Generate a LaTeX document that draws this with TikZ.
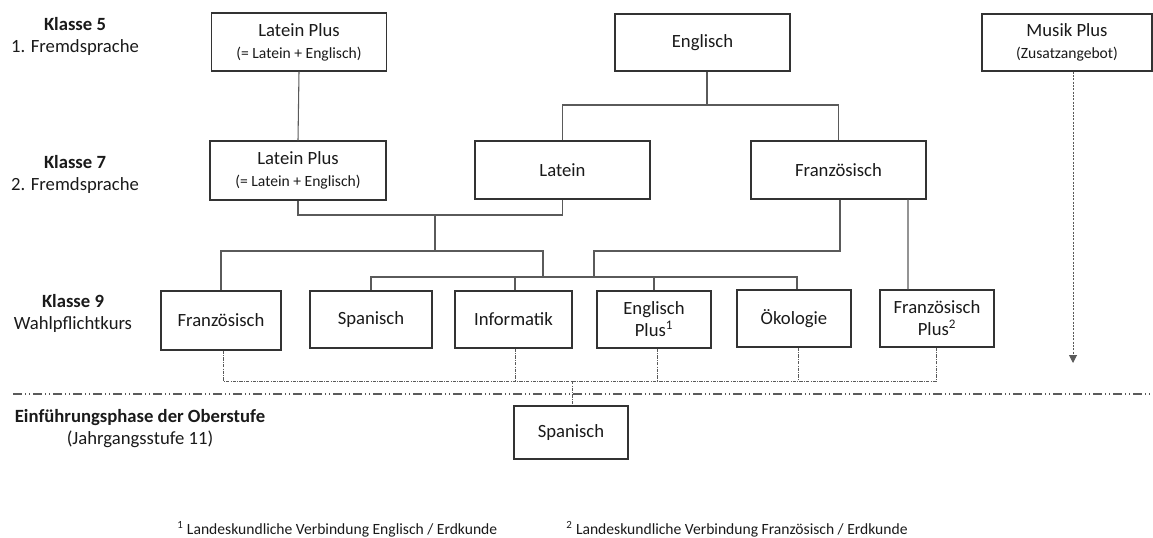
\documentclass[tikz,border=0pt]{standalone}
\usepackage{fontspec}
\setmainfont{Carlito}
\usetikzlibrary{arrows.meta,calc}
\definecolor{boxc}{HTML}{333333}
\definecolor{linec}{HTML}{5A5A5A}
\definecolor{txt}{HTML}{1A1A1A}
\def\PX{0.75pt}
\begin{document}
\begin{tikzpicture}[x=0.75pt,y=-0.75pt,
  every node/.style={text=txt},
  wh/.style 2 args={minimum width=#1*\PX, minimum height=#2*\PX},
  box/.style={draw=boxc, line width=1pt, fill=white, inner sep=0pt, align=center,
    font=\fontsize{14}{16.5}\selectfont},
  lbl/.style={align=center, inner sep=0pt, font=\fontsize{14}{16.5}\selectfont},
  conn/.style={draw=linec, line width=0.8pt},
  dd/.style={draw=linec, line width=0.6pt, dash pattern=on 2.5pt off 1pt on 0.5pt off 1pt},
  sep/.style={draw=linec, line width=1pt, dash pattern=on 7pt off 2pt on 1pt off 2pt on 1pt off 2pt},
  dotarrow/.style={draw=linec, line width=0.7pt, dash pattern=on 1.5pt off 1pt, -{Triangle[width=6pt,length=6pt]}},
  foot/.style={inner sep=0pt, font=\fontsize{11.7}{14}\selectfont}
]
\useasboundingbox (0,0) rectangle (1153,537);
\newcommand\smallline[1]{{\fontsize{11.7}{16}\selectfont #1}}

% row labels
\node[lbl] (k5) at (75,36) {\textbf{Klasse 5}\\1. Fremdsprache};
\node[lbl] (k7) at (75,174.5) {\textbf{Klasse 7}\\2. Fremdsprache};
\node[lbl] (k9) at (73,313.5) {\textbf{Klasse 9}\\Wahlpflichtkurs};
\node[lbl] (ef) at (140,429) {\textbf{Einführungsphase der Oberstufe}\\(Jahrgangsstufe 11)};

% boxes
\node[box, wh={175}{58}] (lp5) at (299,42) {Latein Plus\\\smallline{(= Latein + Englisch)}};
\node[box, wh={175}{57}] (engl) at (702.5,42.5) {Englisch};
\node[box, wh={170}{57}] (musik) at (1067,42.5) {Musik Plus\\\smallline{(Zusatzangebot)}};

\node[box, wh={176}{59}] (lp7) at (298,170.5) {Latein Plus\\\smallline{(= Latein + Englisch)}};
\node[box, wh={175}{58}] (lat) at (562.5,170) {Latein};
\node[box, wh={175}{58}] (fr7) at (838.5,170) {Französisch};

\node[box, wh={120}{59}] (fr9) at (221,320.5) {Französisch};
\node[box, wh={122}{57}] (sp9) at (371,319.5) {Spanisch};
\node[box, wh={117}{57}] (info) at (513.5,319.5) {Informatik};
\node[box, wh={114}{57}] (ep) at (654,319.5) {Englisch\\Plus\textsuperscript{1}};
\node[box, wh={114}{57}] (oek) at (794,318.5) {Ökologie};
\node[box, wh={114}{57}] (fp) at (937,318.5) {Französisch\\Plus\textsuperscript{2}};

\node[box, wh={114}{53}] (sp11) at (571,432.5) {Spanisch};

% junction coordinates
\coordinate (j1) at (707,105);
\coordinate (j2) at (435,215);
\coordinate (j3) at (435,251);
\coordinate (j4) at (543,277);
\coordinate (j5) at (594,277);
\coordinate (j6) at (572,381);
\coordinate (mend) at (1073,363);
\coordinate (sepl) at (13,394);
\coordinate (sepr) at (1153,394);

% solid connectors
\draw[conn] (lp5.south) -- (lp7.north);
\draw[conn] (engl.south -| j1) -- (j1);
\draw[conn] (lat.north) |- (j1) -| (fr7.north);
\draw[conn] (lp7.south) |- (j2) -| (lat.south);
\draw[conn] (j2) -- (j3);
\draw[conn] (fr9.north) |- (j4 |- j3) -- (j4);
\draw[conn] ([xshift=1.1pt]fr7.south) |- (j5 |- j3) -- (j5);
\draw[conn] (sp9.north) |- ([xshift=2.25pt]oek.north |- j4) -- ([xshift=2.25pt]oek.north);
\draw[conn] ([xshift=1.1pt]info.north) -- ([xshift=1.1pt]info.north |- j4);
\draw[conn] (ep.north) -- (ep.north |- j4);
\draw[conn] ([xshift=52.1pt]fr7.south) -- ([xshift=-21.75pt]fp.north);

% dash-dot connectors to Einfuehrungsphase
\draw[dd] ([xshift=1.5pt]fr9.south) |- (j6) -| ([xshift=-0.75pt]fp.south);
\draw[dd] ([xshift=1.1pt]info.south) -- ([xshift=1.1pt]info.south |- j6);
\draw[dd] ([xshift=2.25pt]ep.south) -- ([xshift=2.25pt]ep.south |- j6);
\draw[dd] ([xshift=3pt]oek.south) -- ([xshift=3pt]oek.south |- j6);
\draw[dd] (j6) -- (sp11.north -| j6);

% separator
\draw[sep] (sepl) -- (sepr);

% Musik Plus arrow
\draw[dotarrow] ([xshift=4.5pt]musik.south) -- (mend);

% footnotes
\node[foot, anchor=base west] (fn1) at (177,534) {\textsuperscript{1} Landeskundliche Verbindung Englisch / Erdkunde};
\node[foot, anchor=base west] (fn2) at (566,534) {\textsuperscript{2} Landeskundliche Verbindung Französisch / Erdkunde};
\end{tikzpicture}
\end{document}
